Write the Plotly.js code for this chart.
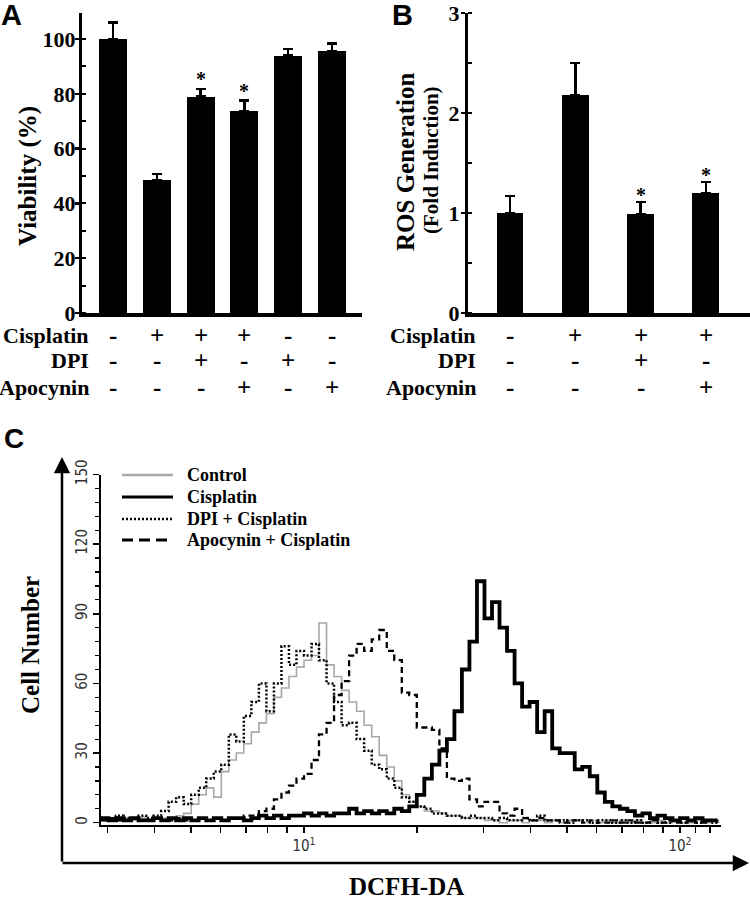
<!DOCTYPE html>
<html>
<head>
<meta charset="utf-8">
<script src="https://cdn.plot.ly/plotly-3.0.1.min.js"></script>
<style>
html,body{margin:0;padding:0;background:#fff;}
#chart{width:750px;height:899px;}
</style>
</head>
<body>
<div id="chart"></div>
<script>
// ---------- Panel A: viability ----------
const viabilityCats = [0, 1, 2, 3, 4, 5];
const viabilityValues = [100, 48.5, 79, 73.7, 93.9, 95.7];
const viabilityErrors = [6, 2.2, 2.7, 3.8, 2.5, 2.6];
const viabilitySig = [false, false, true, true, false, false];
const viabCisplatin = ['-', '+', '+', '+', '-', '-'];
const viabDPI = ['-', '-', '+', '-', '+', '-'];
const viabApocynin = ['-', '-', '-', '+', '-', '+'];

// ---------- Panel B: ROS generation ----------
const rosCats = [0, 1, 2, 3];
const rosValues = [1.0, 2.18, 0.99, 1.2];
const rosErrors = [0.17, 0.32, 0.12, 0.11];
const rosSig = [false, false, true, true];
const rosCisplatin = ['-', '+', '+', '+'];
const rosDPI = ['-', '-', '+', '-'];
const rosApocynin = ['-', '-', '-', '+'];

const rowLabels = ['Cisplatin', 'DPI', 'Apocynin'];

// ---------- Panel C: DCFH-DA flow histogram ----------
const histX = [
  2.884, 3.020, 3.162, 3.311, 3.467, 3.631, 3.802, 3.981, 4.169, 4.365,
  4.571, 4.786, 5.012, 5.248, 5.495, 5.754, 6.026, 6.310, 6.607, 6.918,
  7.244, 7.586, 7.943, 8.318, 8.710, 9.120, 9.550, 10.00, 10.47, 10.96,
  11.48, 12.02, 12.59, 13.18, 13.80, 14.45, 15.14, 15.85, 16.60, 17.38,
  18.20, 19.05, 19.95, 20.89, 21.88, 22.91, 23.99, 25.12, 26.30, 27.54,
  28.84, 30.20, 31.62, 33.11, 34.67, 36.31, 38.02, 39.81, 41.69, 43.65,
  45.71, 47.86, 50.12, 52.48, 54.95, 57.54, 60.26, 63.10, 66.07, 69.18,
  72.44, 75.86, 79.43, 83.18, 87.10, 91.20, 95.50, 100.0, 104.7, 109.6,
  114.8, 120.2, 125.9
];
const controlCounts = [
  1, 2, 1, 2, 1, 2, 1, 2, 2, 1,
  3, 4, 8, 12, 15, 11, 22, 27, 30, 34,
  39, 43, 47, 54, 58, 63, 67, 70, 72, 86,
  68, 63, 57, 52, 48, 42, 37, 29, 24, 18,
  12, 9, 7, 5, 5, 4, 3, 3, 2, 2,
  2, 1, 1, 0, 1, 1, 0, 1, 1, 0,
  1, 0, 1, 1, 0, 1, 0, 1, 0, 1,
  0, 1, 0, 0, 1, 0, 1, 0, 0, 1,
  0, 1, 0
];
const cisplatinCounts = [
  2, 1, 2, 1, 2, 1, 1, 2, 1, 2,
  1, 2, 1, 2, 1, 2, 1, 2, 2, 1,
  2, 3, 2, 3, 2, 3, 3, 4, 3, 4,
  3, 4, 4, 6, 4, 5, 4, 5, 4, 6,
  5, 7, 12, 19, 25, 31, 36, 48, 66, 78,
  104, 88, 95, 84, 74, 60, 50, 52, 39, 48,
  32, 30, 30, 23, 24, 20, 13, 9, 7, 6,
  5, 3, 4, 2, 3, 2, 1, 2, 1, 2,
  1, 1, 1
];
const dpiCounts = [
  2, 1, 3, 2, 2, 3, 2, 3, 5, 9,
  11, 8, 12, 15, 19, 22, 25, 38, 35, 46,
  52, 60, 48, 60, 76, 68, 74, 72, 77, 70,
  60, 52, 42, 43, 36, 31, 25, 23, 19, 15,
  11, 9, 7, 6, 4, 4, 3, 3, 2, 3,
  2, 2, 1, 2, 1, 1, 2, 1, 3, 1,
  1, 1, 0, 1, 1, 0, 1, 1, 0, 1,
  0, 1, 0, 1, 0, 0, 1, 0, 1, 0,
  1, 0, 1
];
const apocyninCounts = [
  1, 2, 1, 1, 2, 1, 1, 2, 1, 1,
  2, 1, 1, 2, 1, 2, 1, 2, 2, 3,
  3, 5, 6, 10, 13, 16, 19, 21, 27, 38,
  43, 55, 61, 72, 77, 74, 79, 83, 74, 70,
  56, 55, 41, 41, 40, 32, 19, 18, 19, 10,
  7, 9, 9, 4, 3, 6, 2, 1, 2, 1,
  1, 0, 1, 1, 0, 1, 0, 0, 1, 0,
  1, 0, 0, 1, 0, 1, 0, 0, 1, 0,
  0, 1, 0
];
const histSeriesNames = ['Control', 'Cisplatin', 'DPI + Cisplatin', 'Apocynin + Cisplatin'];
const histTickVals = [3,4,5,6,7,8,9,10,20,30,40,50,60,70,80,90,100,110,120];
const histTickText = ['','','','','','','','10<sup>1</sup>','','','','','','','','','10<sup>2</sup>','',''];

// ---------- styling helpers ----------
const SERIF = 'Liberation Serif';
const SANS = 'Liberation Sans';
const NARROW = 'Liberation Sans Narrow, DejaVu Sans Condensed, Liberation Sans';
const W = 750, H = 899;
const px = v => v / W;
const py = v => 1 - v / H;

const traces = [
  {
    type: 'bar', x: viabilityCats, y: viabilityValues, xaxis: 'x', yaxis: 'y',
    width: 0.64, marker: {color: '#000', line: {width: 0}},
    error_y: {type: 'data', array: viabilityErrors, arrayminus: viabilityErrors.map(() => 0),
              symmetric: false, color: '#000', thickness: 2.5, width: 5},
    hoverinfo: 'skip'
  },
  {
    type: 'bar', x: rosCats, y: rosValues, xaxis: 'x2', yaxis: 'y2',
    width: 0.413, marker: {color: '#000', line: {width: 0}},
    error_y: {type: 'data', array: rosErrors, arrayminus: rosErrors.map(() => 0),
              symmetric: false, color: '#000', thickness: 2.5, width: 5},
    hoverinfo: 'skip'
  },
  {
    type: 'scatter', mode: 'lines', name: histSeriesNames[0], x: histX, y: controlCounts,
    xaxis: 'x3', yaxis: 'y3', line: {color: '#a8a8a8', width: 1.6, shape: 'hv'}
  },
  {
    type: 'scatter', mode: 'lines', name: histSeriesNames[2], x: histX, y: dpiCounts,
    xaxis: 'x3', yaxis: 'y3', line: {color: '#000', width: 2.5, dash: '2px,2px', shape: 'hv'}
  },
  {
    type: 'scatter', mode: 'lines', name: histSeriesNames[3], x: histX, y: apocyninCounts,
    xaxis: 'x3', yaxis: 'y3', line: {color: '#000', width: 2.3, dash: '6px,4px', shape: 'hv'}
  },
  {
    type: 'scatter', mode: 'lines', name: histSeriesNames[1], x: histX, y: cisplatinCounts,
    xaxis: 'x3', yaxis: 'y3', line: {color: '#000', width: 3.8, shape: 'hv'}
  }
];

const annotations = [];
const serifBold = (size) => ({family: SERIF, size: size, color: '#000', weight: 'bold'});

// Panel letters
annotations.push({text: 'A', xref: 'paper', yref: 'paper', x: px(-1), y: py(15), xanchor: 'left', yanchor: 'middle',
  showarrow: false, font: {family: SANS, size: 29, color: '#000', weight: 'bold'}});
annotations.push({text: 'B', xref: 'paper', yref: 'paper', x: px(390), y: py(15), xanchor: 'left', yanchor: 'middle',
  showarrow: false, font: {family: SANS, size: 29, color: '#000', weight: 'bold'}});
annotations.push({text: 'C', xref: 'paper', yref: 'paper', x: px(2), y: py(438), xanchor: 'left', yanchor: 'middle',
  showarrow: false, font: {family: SANS, size: 28, color: '#000', weight: 'bold'}});

// Y titles
annotations.push({text: 'Viability (%)', xref: 'paper', yref: 'paper', x: px(28), y: py(176), textangle: -90,
  xanchor: 'center', yanchor: 'middle', showarrow: false, font: serifBold(25)});
annotations.push({text: 'ROS Generation', xref: 'paper', yref: 'paper', x: px(405), y: py(162), textangle: -90,
  xanchor: 'center', yanchor: 'middle', showarrow: false, font: serifBold(25)});
annotations.push({text: '(Fold Induction)', xref: 'paper', yref: 'paper', x: px(431), y: py(160), textangle: -90,
  xanchor: 'center', yanchor: 'middle', showarrow: false, font: serifBold(21)});

// Treatment table
const rowY = [335, 361, 387];
const viabRows = [viabCisplatin, viabDPI, viabApocynin];
const rosRows = [rosCisplatin, rosDPI, rosApocynin];
rowLabels.forEach((lab, r) => {
  annotations.push({text: lab, xref: 'paper', yref: 'paper', x: px(91), y: py(rowY[r]), xanchor: 'right', yanchor: 'middle',
    showarrow: false, font: serifBold(22)});
  annotations.push({text: lab, xref: 'paper', yref: 'paper', x: px(478), y: py(rowY[r]), xanchor: 'right', yanchor: 'middle',
    showarrow: false, font: serifBold(22)});
  viabilityCats.forEach((c, i) => {
    annotations.push({text: viabRows[r][i], xref: 'x', yref: 'paper', x: c, y: py(rowY[r]), xanchor: 'center', yanchor: 'middle',
      showarrow: false, font: serifBold(25)});
  });
  rosCats.forEach((c, i) => {
    annotations.push({text: rosRows[r][i], xref: 'x2', yref: 'paper', x: c, y: py(rowY[r]), xanchor: 'center', yanchor: 'middle',
      showarrow: false, font: serifBold(25)});
  });
});

// Significance asterisks
viabilityCats.forEach((c, i) => {
  if (viabilitySig[i]) annotations.push({text: '*', xref: 'x', yref: 'y', x: c, y: viabilityValues[i] + viabilityErrors[i],
    yshift: 10, xanchor: 'center', yanchor: 'middle', showarrow: false, font: serifBold(20)});
});
rosCats.forEach((c, i) => {
  if (rosSig[i]) annotations.push({text: '*', xref: 'x2', yref: 'y2', x: c, y: rosValues[i] + rosErrors[i],
    yshift: 7, xanchor: 'center', yanchor: 'middle', showarrow: false, font: serifBold(20)});
});

// Panel C labels
annotations.push({text: 'Cell Number', xref: 'paper', yref: 'paper', x: px(30), y: py(645), textangle: -90,
  xanchor: 'center', yanchor: 'middle', showarrow: false, font: serifBold(25)});
annotations.push({text: 'DCFH-DA', xref: 'paper', yref: 'paper', x: px(406), y: py(886), xanchor: 'center', yanchor: 'middle',
  showarrow: false, font: serifBold(25)});

// Outer arrows of panel C
annotations.push({text: '', xref: 'paper', yref: 'paper', x: px(62), y: py(457), ax: 0, ay: 406, axref: 'pixel', ayref: 'pixel',
  showarrow: true, arrowhead: 2, arrowsize: 1.3, arrowwidth: 2.5, arrowcolor: '#000', standoff: 0});
annotations.push({text: '', xref: 'paper', yref: 'paper', x: px(749), y: py(863), ax: -688, ay: 0, axref: 'pixel', ayref: 'pixel',
  showarrow: true, arrowhead: 2, arrowsize: 1.3, arrowwidth: 2.5, arrowcolor: '#000', standoff: 0});

// Manual legend
const legendRows = [475, 497, 519, 540];
const legendOrder = [0, 1, 2, 3];
const legendStyles = [
  {color: '#a8a8a8', width: 2.5, dash: 'solid'},
  {color: '#000', width: 3, dash: 'solid'},
  {color: '#000', width: 2.5, dash: '2px,2px'},
  {color: '#000', width: 3, dash: '11px,6px'}
];
const shapes = [];
legendOrder.forEach((k, r) => {
  shapes.push({type: 'line', xref: 'paper', yref: 'paper', x0: px(122), x1: px(173), y0: py(legendRows[r]), y1: py(legendRows[r]),
    line: legendStyles[k]});
  annotations.push({text: histSeriesNames[k], xref: 'paper', yref: 'paper', x: px(185), y: py(legendRows[r]), xanchor: 'left', yanchor: 'middle',
    showarrow: false, font: serifBold(18)});
});

const layout = {
  width: W, height: H,
  margin: {l: 0, r: 0, t: 0, b: 0},
  paper_bgcolor: '#fff', plot_bgcolor: 'rgba(0,0,0,0)',
  showlegend: false,
  bargap: 0,
  xaxis: {domain: [px(82), px(362)], range: [-0.708, 5.685], anchor: 'y', showline: true, linewidth: 4, linecolor: '#000',
    ticks: '', showticklabels: false, showgrid: false, zeroline: false, fixedrange: true},
  yaxis: {domain: [py(313), py(13)], range: [0, 109.5], anchor: 'x', showline: true, linewidth: 3, linecolor: '#000',
    ticks: 'outside', ticklen: 4, tickwidth: 2.5, tickcolor: '#000', tickmode: 'linear', tick0: 0, dtick: 20,
    ticklabelstandoff: -5,
    minor: {dtick: 10, ticks: 'inside', ticklen: 4, tickwidth: 2, tickcolor: '#000'},
    tickfont: serifBold(22), showgrid: false, zeroline: false, fixedrange: true},
  xaxis2: {domain: [px(468), 1], range: [-0.643, 3.674], anchor: 'y2', showline: true, linewidth: 4, linecolor: '#000',
    ticks: '', showticklabels: false, showgrid: false, zeroline: false, fixedrange: true},
  yaxis2: {domain: [py(313), py(13)], range: [0, 3], anchor: 'x2', showline: true, linewidth: 3, linecolor: '#000',
    ticks: 'outside', ticklen: 4, tickwidth: 2.5, tickcolor: '#000', tickmode: 'linear', tick0: 0, dtick: 1,
    ticklabelstandoff: -3,
    minor: {dtick: 0.5, ticks: 'inside', ticklen: 4, tickwidth: 2, tickcolor: '#000'},
    tickfont: serifBold(22), showgrid: false, zeroline: false, fixedrange: true},
  xaxis3: {type: 'log', domain: [px(101), px(721)], range: [0.4601, 2.109], anchor: 'y3', showline: true, linewidth: 2,
    linecolor: '#000', ticks: 'outside', ticklen: 6, tickwidth: 1.5, tickcolor: '#000', tickmode: 'array',
    tickvals: histTickVals, ticktext: histTickText, tickfont: {family: NARROW, size: 15, color: '#333'},
    showgrid: false, zeroline: false, fixedrange: true},
  yaxis3: {domain: [py(825), py(474.5)], range: [-1, 150], anchor: 'x3', showline: true, linewidth: 2, linecolor: '#000',
    ticks: 'outside', ticklen: 6, tickwidth: 1.5, tickcolor: '#000', tickmode: 'linear', tick0: 0, dtick: 30, tickangle: -90,
    minor: {dtick: 6, ticks: 'outside', ticklen: 4, tickwidth: 1.2, tickcolor: '#000'},
    tickfont: {family: NARROW, size: 15, color: '#333'}, showgrid: false, zeroline: false, fixedrange: true},
  annotations: annotations,
  shapes: shapes
};

Plotly.newPlot('chart', traces, layout, {staticPlot: true, displayModeBar: false});
</script>
</body>
</html>
